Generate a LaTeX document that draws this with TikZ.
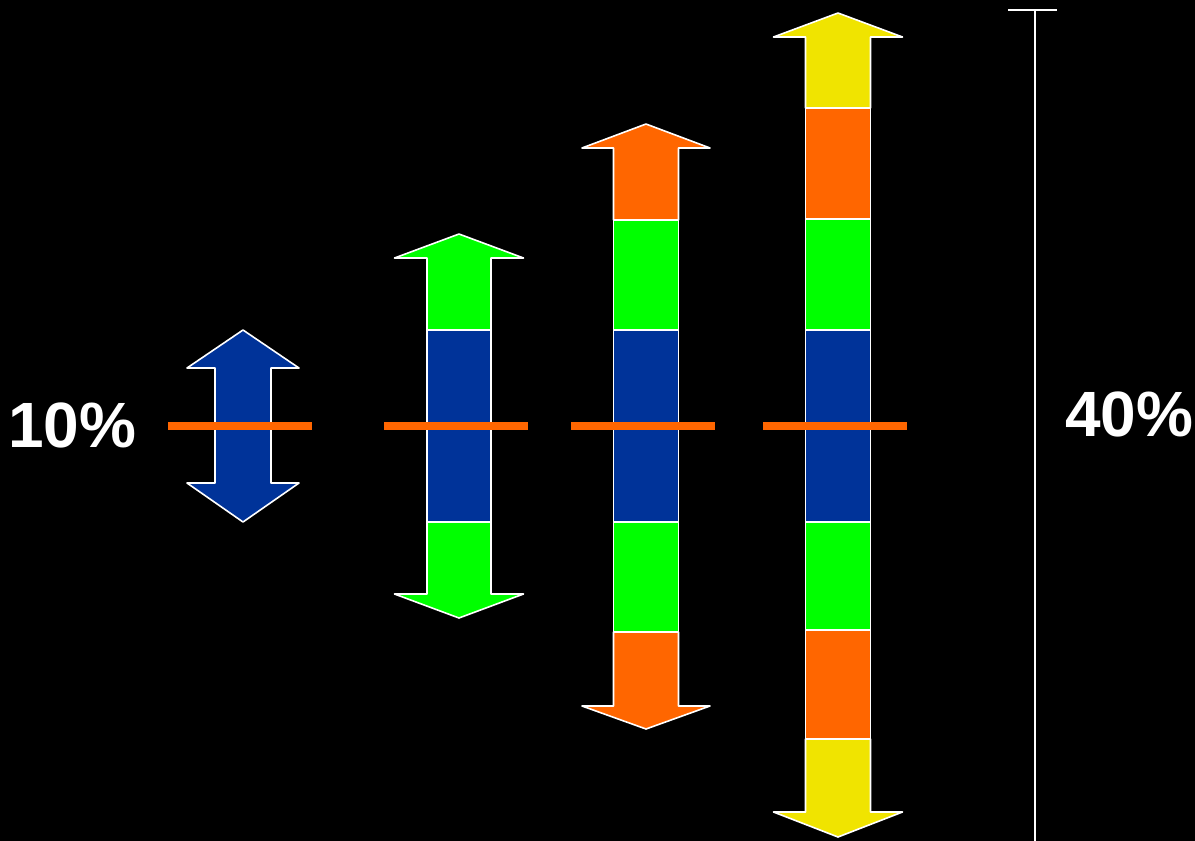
\documentclass[tikz,border=0pt]{standalone}
\usepackage{fontspec}
\setmainfont{Liberation Sans}
\definecolor{cblue}{RGB}{0,51,153}
\definecolor{cgreen}{RGB}{0,255,0}
\definecolor{corange}{RGB}{255,102,0}
\definecolor{cyellow}{RGB}{240,228,0}
\tikzset{
  seg/.style={draw=white, line width=1.6pt, line join=round},
  midbar/.style={draw=corange, line width=8pt},
  lbl/.style={text=white, font=\fontsize{64}{64}\selectfont\bfseries, inner sep=0pt, anchor=base west},
  scaleline/.style={draw=white, line width=2pt}
}
% cx, tip, head base, bottom, colour, half wing, half shaft
\newcommand\myUpSeg[7]{%
  \path[seg, fill=#5] (#1-#7,#4) -- (#1-#7,#3) -- (#1-#6,#3) -- (#1,#2) -- (#1+#6,#3) -- (#1+#7,#3) -- (#1+#7,#4) -- cycle;}
% cx, tip, head base, top, colour, half wing, half shaft
\newcommand\myDnSeg[7]{%
  \path[seg, fill=#5] (#1-#7,#4) -- (#1-#7,#3) -- (#1-#6,#3) -- (#1,#2) -- (#1+#6,#3) -- (#1+#7,#3) -- (#1+#7,#4) -- cycle;}
% cx, top, bottom, colour, half shaft
\newcommand\myBoxSeg[5]{%
  \path[seg, fill=#4] (#1-#5,#2) rectangle (#1+#5,#3);}
\begin{document}
\begin{tikzpicture}[x=1pt,y=-1pt]
\fill[black] (0,0) rectangle (1195,841);
\useasboundingbox (0,0) rectangle (1195,841);

% arrow 1 (blue, double headed)
\path[seg, fill=cblue] (243,330) -- (299,368) -- (271,368) -- (271,483) -- (299,483) -- (243,522) -- (187,483) -- (215,483) -- (215,368) -- (187,368) -- cycle;

% arrow 2
\myUpSeg{459}{234}{258}{330}{cgreen}{64.5}{32}
\myBoxSeg{459}{330}{522}{cblue}{32}
\myDnSeg{459}{618}{594}{522}{cgreen}{64.5}{32}

% arrow 3
\myUpSeg{646}{124}{148}{220}{corange}{64}{32.5}
\myBoxSeg{646}{220}{330}{cgreen}{32.5}
\myBoxSeg{646}{330}{522}{cblue}{32.5}
\myBoxSeg{646}{522}{632}{cgreen}{32.5}
\myDnSeg{646}{729}{706}{632}{corange}{64}{32.5}

% arrow 4
\myUpSeg{838}{13}{37}{108}{cyellow}{64.5}{32.5}
\myBoxSeg{838}{108}{219}{corange}{32.5}
\myBoxSeg{838}{219}{330}{cgreen}{32.5}
\myBoxSeg{838}{330}{522}{cblue}{32.5}
\myBoxSeg{838}{522}{630}{cgreen}{32.5}
\myBoxSeg{838}{630}{739}{corange}{32.5}
\myDnSeg{838}{837}{812}{739}{cyellow}{64.5}{32.5}

% orange middle bars
\draw[midbar] (168,426) -- (312,426);
\draw[midbar] (384,426) -- (528,426);
\draw[midbar] (571,426) -- (715,426);
\draw[midbar] (763,426) -- (907,426);

% scale line
\coordinate (st) at (1035,10);
\coordinate (sb) at (1035,841);
\coordinate (tl) at (1008,10);
\coordinate (tr) at (1057,10);
\draw[scaleline] (st) -- (sb);
\draw[scaleline] (tl) -- (tr);

% labels
\node[lbl] (ten) at (8,447) {10\%};
\node[lbl] (forty) at (1065,436) {40\%};
\end{tikzpicture}
\end{document}
